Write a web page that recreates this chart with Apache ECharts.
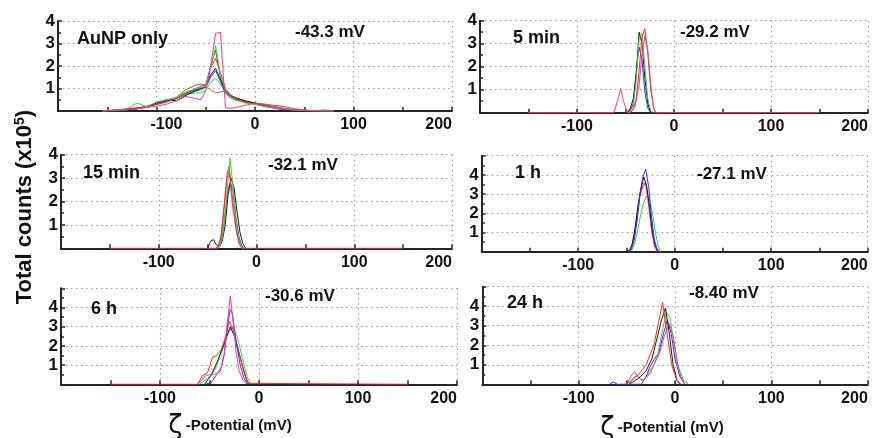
<!DOCTYPE html>
<html><head><meta charset="utf-8">
<script src="https://cdn.jsdelivr.net/npm/echarts@6/dist/echarts.min.js"></script>
<style>html,body{margin:0;padding:0;background:#fff}#c{width:874px;height:438px}</style>
</head><body><div id="c"></div>
<script>
// ---------- DATA ----------
const panelTitles = ['AuNP only', '5 min', '15 min', '1 h', '6 h', '24 h'];
const panelZeta = ['-43.3 mV', '-29.2 mV', '-32.1 mV', '-27.1 mV', '-30.6 mV', '-8.40 mV'];
const panelYMax = [4, 4, 4, 5, 5, 5];
const xTickLabels = ['-100', '0', '100', '200'];
const yTickLabels = ['1', '2', '3', '4'];

// Panel 1: AuNP only
const p1X = [-155,-140,-130,-120,-110,-100,-90,-80,-70,-60,-55,-50,-45,-40,-35,-30,-25,-20,-10,0,10,20,30,40,50,60,70,80];
const p1Green1 = [0,0.03,0.08,0.35,0.2,0.4,0.5,0.6,0.85,1.0,1.05,1.1,1.9,2.9,1.6,0.9,0.6,0.5,0.35,0.3,0.2,0.15,0.1,0.05,0.03,0.01,0,0];
const p1Green2 = [0,0.02,0.05,0.1,0.2,0.35,0.45,0.55,0.75,0.8,0.8,0.9,1.3,1.45,1.2,0.8,0.6,0.5,0.4,0.3,0.25,0.15,0.08,0.05,0.02,0.01,0,0];
const p1Red1 = [0,0.05,0.08,0.12,0.2,0.3,0.4,0.55,0.8,1.0,1.1,1.2,1.9,2.35,1.7,1.0,0.7,0.55,0.4,0.3,0.25,0.2,0.12,0.05,0.02,0,0,0];
const p1Red2 = [0,0.05,0.1,0.15,0.2,0.3,0.4,0.6,0.95,1.15,1.2,1.1,0.95,0.8,0.85,0.9,0.7,0.55,0.4,0.35,0.3,0.25,0.2,0.1,0.05,0.02,0,0];
const p1Blue = [0,0.03,0.06,0.1,0.18,0.3,0.45,0.55,0.8,0.95,1.0,1.05,1.5,1.8,1.3,0.8,0.6,0.5,0.4,0.3,0.2,0.12,0.05,0.03,0.01,0,0,0];
const p1Black = [0,0.04,0.07,0.1,0.2,0.35,0.5,0.45,0.7,0.9,1.0,1.1,1.6,1.9,1.4,0.9,0.7,0.6,0.45,0.35,0.25,0.15,0.08,0.04,0.02,0,0,0];
const p1Teal = [0,0.03,0.06,0.1,0.2,0.3,0.45,0.55,0.75,0.9,0.95,1.1,2.0,2.7,1.5,0.85,0.65,0.55,0.45,0.35,0.25,0.15,0.08,0.04,0.02,0,0,0];
const p1Magenta = [0,0.05,0.08,0.1,0.15,0.22,0.3,0.45,0.65,0.55,0.5,0.9,2.0,3.45,3.5,0.15,0.12,0.15,0.25,0.35,0.3,0.15,0.08,0.05,0.03,0.01,0.05,0];

// Panel 2: 5 min  ([mV, counts x1e5])
const p2Blue = [[-48,0],[-45,0.1],[-42,0.4],[-39,1.8],[-36,2.85],[-33,2.3],[-30,0.9],[-27,0.2],[-24,0]];
const p2Black = [[-48,0],[-45,0.2],[-42,0.6],[-39,1.6],[-36,3.5],[-33,3.0],[-30,1.5],[-27,0.4],[-24,0]];
const p2Green = [[-46,0],[-42,0.3],[-39,1.4],[-36,3.2],[-33,3.45],[-30,2.0],[-27,0.6],[-24,0.1],[-21,0]];
const p2Red = [[-45,0],[-42,0.15],[-39,0.6],[-36,1.8],[-33,3.3],[-30,3.65],[-27,2.6],[-24,1.0],[-21,0.2],[-19,0]];
const p2Pink = [[-150,0],[-62,0],[-58,0.55],[-55,1.05],[-52,0.5],[-48,0],[-44,0.05],[-40,0.3],[-36,1.2],[-33,2.5],[-30,3.35],[-27,2.7],[-24,1.2],[-21,0.2],[-19,0],[150,0]];

// Panel 3: 15 min
const p3Blue = [[-42,0],[-39,0.05],[-36,0.3],[-33,1.1],[-30,2.3],[-27,2.8],[-24,2.5],[-21,1.3],[-18,0.5],[-15,0.1],[-13,0]];
const p3Black = [[-50,0],[-47,0.3],[-44,0.37],[-41,0.15],[-38,0.05],[-35,0.3],[-32,1.0],[-29,2.3],[-26,3.0],[-23,2.6],[-20,1.6],[-17,0.7],[-14,0.2],[-11,0]];
const p3Magenta = [[-150,0],[-42,0],[-39,0.05],[-36,0.5],[-33,1.7],[-30,3.0],[-28,3.3],[-25,2.0],[-21,0.8],[-18,0.2],[-15,0],[150,0]];
const p3Red = [[-42,0],[-39,0.1],[-36,0.6],[-33,1.9],[-30,3.2],[-28,3.5],[-25,2.3],[-21,0.9],[-18,0.3],[-15,0]];
const p3Green = [[-41,0],[-38,0.05],[-35,0.4],[-32,1.5],[-29,3.0],[-27,3.85],[-24,2.6],[-21,1.2],[-18,0.4],[-15,0.05],[-13,0]];

// Panel 4: 1 h
const p4Green = [[-48,0],[-44,0.1],[-41,0.5],[-38,1.2],[-35,2.0],[-32,2.6],[-29,2.9],[-26,2.7],[-23,2.0],[-20,1.0],[-17,0.3],[-15,0]];
const p4Red = [[-49,0],[-45,0.2],[-42,0.8],[-39,1.8],[-36,2.9],[-33,3.4],[-30,3.6],[-27,2.6],[-24,1.3],[-21,0.4],[-18,0.05],[-16,0]];
const p4Magenta = [[-49,0],[-45,0.2],[-42,0.9],[-39,2.0],[-36,3.0],[-33,3.6],[-30,3.5],[-27,2.4],[-24,1.1],[-21,0.3],[-18,0]];
const p4Black = [[-51,0],[-47,0.05],[-44,0.4],[-41,1.2],[-38,2.4],[-35,3.3],[-32,3.9],[-29,3.4],[-26,2.3],[-23,1.0],[-20,0.3],[-17,0]];
const p4Blue = [[-48,0],[-45,0.1],[-42,0.6],[-39,1.6],[-36,3.0],[-33,3.9],[-30,4.3],[-27,3.4],[-24,1.8],[-21,0.6],[-18,0.1],[-16,0]];

// Panel 5: 6 h
const p5Green = [[-60,0],[-52,0.3],[-45,0.7],[-38,1.6],[-32,2.6],[-27,3.0],[-22,2.5],[-17,1.4],[-12,0.4],[-8,0]];
const p5Black = [[-55,0],[-48,0.5],[-42,1.2],[-36,2.0],[-29,3.0],[-24,2.4],[-18,1.2],[-13,0.3],[-10,0]];
const p5Red = [[-150,0],[-62,0],[-57,0.45],[-52,0.6],[-47,1.4],[-43,1.5],[-38,1.8],[-33,2.6],[-30,3.3],[-26,2.8],[-20,1.6],[-15,0.6],[-11,0.05],[-9,0],[150,0]];
const p5Blue = [[-54,0],[-48,0.1],[-43,0.5],[-39,0.7],[-35,1.6],[-32,3.0],[-29,3.9],[-27,3.7],[-23,2.2],[-19,1.0],[-15,0.3],[-11,0]];
const p5Magenta = [[-62,0],[-58,0.2],[-54,0.45],[-50,0.5],[-46,0.5],[-42,0.6],[-38,0.9],[-35,1.6],[-32,3.2],[-29,4.6],[-26,3.2],[-23,1.6],[-20,0.7],[-16,0.2],[-12,0]];

// Panel 6: 24 h
const p6Blue = [[-68,0],[-64,0.12],[-60,0],[-35,0],[-30,0.4],[-26,0.9],[-22,1.25],[-17,1.6],[-12,2.6],[-8,3.3],[-4,2.6],[0,1.3],[5,0.4],[10,0]];
const p6Green = [[-48,0],[-43,0.35],[-39,0.45],[-35,0.2],[-30,0.3],[-25,0.6],[-18,1.5],[-13,2.8],[-9,3.7],[-5,3.4],[-1,2.0],[4,0.8],[9,0.2],[14,0]];
const p6Magenta = [[-50,0],[-46,0.4],[-42,0.65],[-38,0.35],[-33,0.2],[-28,0.5],[-22,1.0],[-16,1.6],[-11,2.5],[-6,3.1],[-2,2.5],[2,1.2],[6,0.4],[10,0]];
const p6Black = [[-48,0],[-38,0.3],[-30,0.7],[-24,1.3],[-18,2.5],[-14,3.3],[-10,3.9],[-6,2.6],[-2,1.0],[2,0.2],[6,0]];
const p6Red = [[-51,0],[-45,0.2],[-38,0.5],[-30,1.0],[-22,2.0],[-17,3.2],[-13,4.2],[-8,2.5],[-3,0.9],[2,0.2],[5,0]];

// ---------- STYLE / LAYOUT ----------
const C = {red:'#ff2424', green:'#2ddc2d', blue:'#2f2fff', magenta:'#ff3399', black:'#1a1a1a', teal:'#2d6f6f', brown:'#c04a3a'};
const grids = [
  {left:58, top:21, width:394, height:90},
  {left:480, top:20.7, width:388, height:92},
  {left:61, top:154.7, width:391, height:93.6},
  {left:481.7, top:155.7, width:386, height:96},
  {left:61, top:288.3, width:396, height:96},
  {left:482.3, top:286.7, width:385.5, height:97.6}
];
const zip = (xs, ys) => xs.map((x, i) => [x, ys[i]]);
const panelSeries = [
  [['teal', zip(p1X,p1Teal)],['brown', zip(p1X,p1Red2)],['green', zip(p1X,p1Green2)],['black', zip(p1X,p1Black)],['blue', zip(p1X,p1Blue)],['red', zip(p1X,p1Red1)],['green', zip(p1X,p1Green1)],['magenta', zip(p1X,p1Magenta)]],
  [['blue',p2Blue],['black',p2Black],['green',p2Green],['red',p2Red],['magenta',p2Pink]],
  [['blue',p3Blue],['black',p3Black],['magenta',p3Magenta],['red',p3Red],['green',p3Green]],
  [['green',p4Green],['red',p4Red],['magenta',p4Magenta],['black',p4Black],['blue',p4Blue]],
  [['green',p5Green],['black',p5Black],['red',p5Red],['blue',p5Blue],['magenta',p5Magenta]],
  [['blue',p6Blue],['green',p6Green],['magenta',p6Magenta],['black',p6Black],['red',p6Red]]
];
const FONT = '"Liberation Sans", Arial, sans-serif';
const axisLineStyle = {color:'#262626', width:2};
const gridLine = {type:[1.5,3.5], color:'#9a9a9a', width:1.2};

const option = {
  animation:false,
  backgroundColor:'#fff',
  grid: grids,
  xAxis: grids.map((g, i) => ({
    type:'value', gridIndex:i, min:-200, max:200, interval:100,
    axisLine:{show:true, onZero:false, lineStyle:axisLineStyle},
    axisTick:{show:true, inside:true, length:4, lineStyle:{color:'#262626', width:1.5}},
    minorTick:{show:true, splitNumber:2, length:4, lineStyle:{color:'#262626', width:1.5}},
    splitLine:{show:true, lineStyle:gridLine},
    axisLabel:{
      margin:6, fontSize:16, fontWeight:'bold', color:'#111', fontFamily:FONT,
      alignMaxLabel:'right',
      formatter: v => {
        const s = xTickLabels.find(t => Number(t) === v);
        if (s === undefined) return '';
        return (i === 0 && v === -100) ? '{o|' + s + '}' : s;
      },
      rich:{o:{fontSize:16, fontWeight:'bold', color:'#111', fontFamily:FONT, padding:[0,0,0,20]}}
    }
  })),
  yAxis: grids.map((g, i) => ({
    type:'value', gridIndex:i, min:0, max:panelYMax[i], interval:1,
    axisLine:{show:true, onZero:false, lineStyle:axisLineStyle},
    axisTick:{show:true, inside:true, length:4, lineStyle:{color:'#262626', width:1.5}},
    minorTick:{show:true, splitNumber:2, length:3, lineStyle:{color:'#262626', width:1.5}},
    splitLine:{show:true, lineStyle:gridLine},
    axisLabel:{
      margin:3, fontSize:17, fontWeight:'bold', color:'#111', fontFamily:FONT,
      formatter: v => { const s = yTickLabels.find(t => Number(t) === v); return s === undefined ? '' : s; }
    }
  })),
  series: [],
  graphic: []
};
panelSeries.forEach((list, i) => {
  list.forEach(([col, data]) => {
    option.series.push({
      type:'line', xAxisIndex:i, yAxisIndex:i, data:data, symbol:'none', showSymbol:false,
      lineStyle:{color:C[col], width:1}, itemStyle:{color:C[col]}, silent:true, z:3
    });
  });
});

// panel text positions
const titlePos = [[77,39],[513,38.5],[83,173],[515,173.5],[91,309],[507,303.5]];
const zetaPos = [[295,32],[680,32.5],[268,165],[697,174],[265,296],[689,293.5]];
const txtStyle = (t, size) => ({text:t, font:'bold ' + size + 'px ' + FONT, fill:'#111', verticalAlign:'middle'});
panelTitles.forEach((t, i) => {
  option.graphic.push({type:'text', x:titlePos[i][0], y:titlePos[i][1], style:txtStyle(t, 18), z:10});
  option.graphic.push({type:'text', x:zetaPos[i][0], y:zetaPos[i][1], style:txtStyle(panelZeta[i], 17), z:10});
});
// y axis title
option.graphic.push({
  type:'text', x:25, y:207, rotation:Math.PI/2, z:10,
  style:{
    text:'{a|Total counts (x10}{s|5}{a|)}', align:'center', verticalAlign:'middle',
    rich:{
      a:{font:'bold 22px ' + FONT, fill:'#111'},
      s:{font:'bold 14px ' + FONT, fill:'#111', padding:[0,0,10,0]}
    }
  }
});
// x axis titles
[[230,426],[662,428]].forEach(p => {
  option.graphic.push({
    type:'text', x:p[0], y:p[1], z:10,
    style:{
      text:'{z|ζ} {p|-Potential (mV)}', align:'center', verticalAlign:'middle',
      rich:{
        z:{font:'26px "DejaVu Sans", sans-serif', fill:'#111'},
        p:{font:'bold 15px ' + FONT, fill:'#111'}
      }
    }
  });
});

const chart = echarts.init(document.getElementById('c'), null, {renderer:'canvas'});
chart.setOption(option);
</script></body></html>
